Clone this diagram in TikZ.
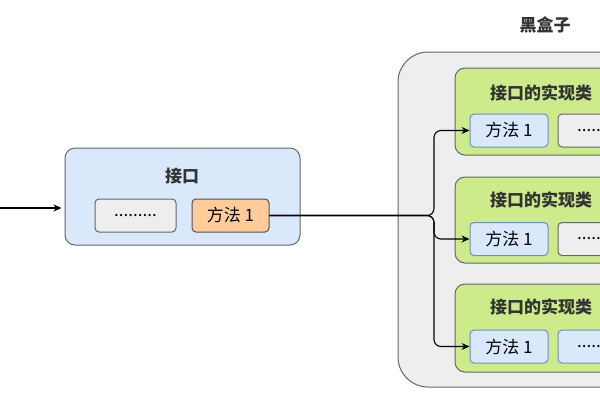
\documentclass[tikz,border=0pt]{standalone}
\usepackage{fontspec}
\setmainfont{Noto Sans CJK SC}
\usepackage{xcolor}
\usetikzlibrary{arrows.meta,positioning,calc}

\definecolor{boxblue}{HTML}{DAE8FC}
\definecolor{lineblue}{HTML}{6C8EBF}
\definecolor{boxgray}{HTML}{EEEEEE}
\definecolor{boxorange}{HTML}{FFCC99}
\definecolor{boxgreen}{HTML}{CDEB8B}
\definecolor{edgegray}{HTML}{666666}
\definecolor{textgray}{HTML}{333333}

\begin{document}
\begin{tikzpicture}[
  x=1pt, y=-1pt,
  font=\fontsize{17}{19}\selectfont,
  frame/.style   ={draw=edgegray, rounded corners=10pt, line width=1pt},
  small/.style   ={draw=edgegray, rounded corners=4pt, line width=1pt,
                   minimum height=33pt, inner sep=0pt},
  meth/.style    ={small, fill=boxblue, draw=lineblue, minimum width=78pt},
  dots/.style    ={small, fill=boxgray, minimum width=81pt},
  title/.style   ={font=\fontsize{17}{19}\selectfont\bfseries, text=textgray},
  ar/.style      ={-{Stealth[length=8pt,width=7pt]}, line width=1.1pt},
]
\useasboundingbox (0,0) rectangle (600,400);
\clip (0,0) rectangle (600,400);

% ---------------- the interface ----------------------------------------
\node[frame, fill=boxblue, minimum width=235pt, minimum height=97pt]
  (iface) at (182.5,196.5) {};
\node[title] (ifname) at (182,176) {接口};
\node[dots]  (idots) at (135.5,215.5) {.........};
\node[small, fill=boxorange, draw=edgegray!80!black, minimum width=77pt]
  (imeth) at (230.5,215.5) {方法 1};

\coordinate (in) at (0,208);
\draw[ar] (in) -- ($(in -| iface.west)+(-3,0)$);

% ---------------- the black box ----------------------------------------
\node[title] (bbname) at (545,25) {黑盒子};
\node[frame, fill=boxgray, rounded corners=30pt,
      minimum width=242pt, minimum height=335pt] (bbox) at (519,219.5) {};

\foreach \i/\y/\h/\ty/\my/\dfill/\ddraw in
  {1/111.5/87/93/130.5/boxgray/edgegray,
   2/220/86/200/239/boxgray/edgegray,
   3/328/88/307/346.5/boxblue/lineblue}{
  \node[frame, fill=boxgreen, minimum width=185pt, minimum height=\h pt]
    (impl\i) at (547.5,\y) {};
  \node[title] (iname\i) at (541,\ty) {接口的实现类};
  \node[meth] (m\i) at (509,\my) {方法 1};
  \node[dots, fill=\dfill, draw=\ddraw] (d\i) at (598.5,\my) {.........};
}

% ---------------- dispatch to the implementations ----------------------
\coordinate (split) at (434,0);
\foreach \i in {1,2,3}
  \draw[ar, rounded corners=7pt] (imeth.east) -| (split |- m\i.west) -- (m\i.west);

\end{tikzpicture}
\end{document}
